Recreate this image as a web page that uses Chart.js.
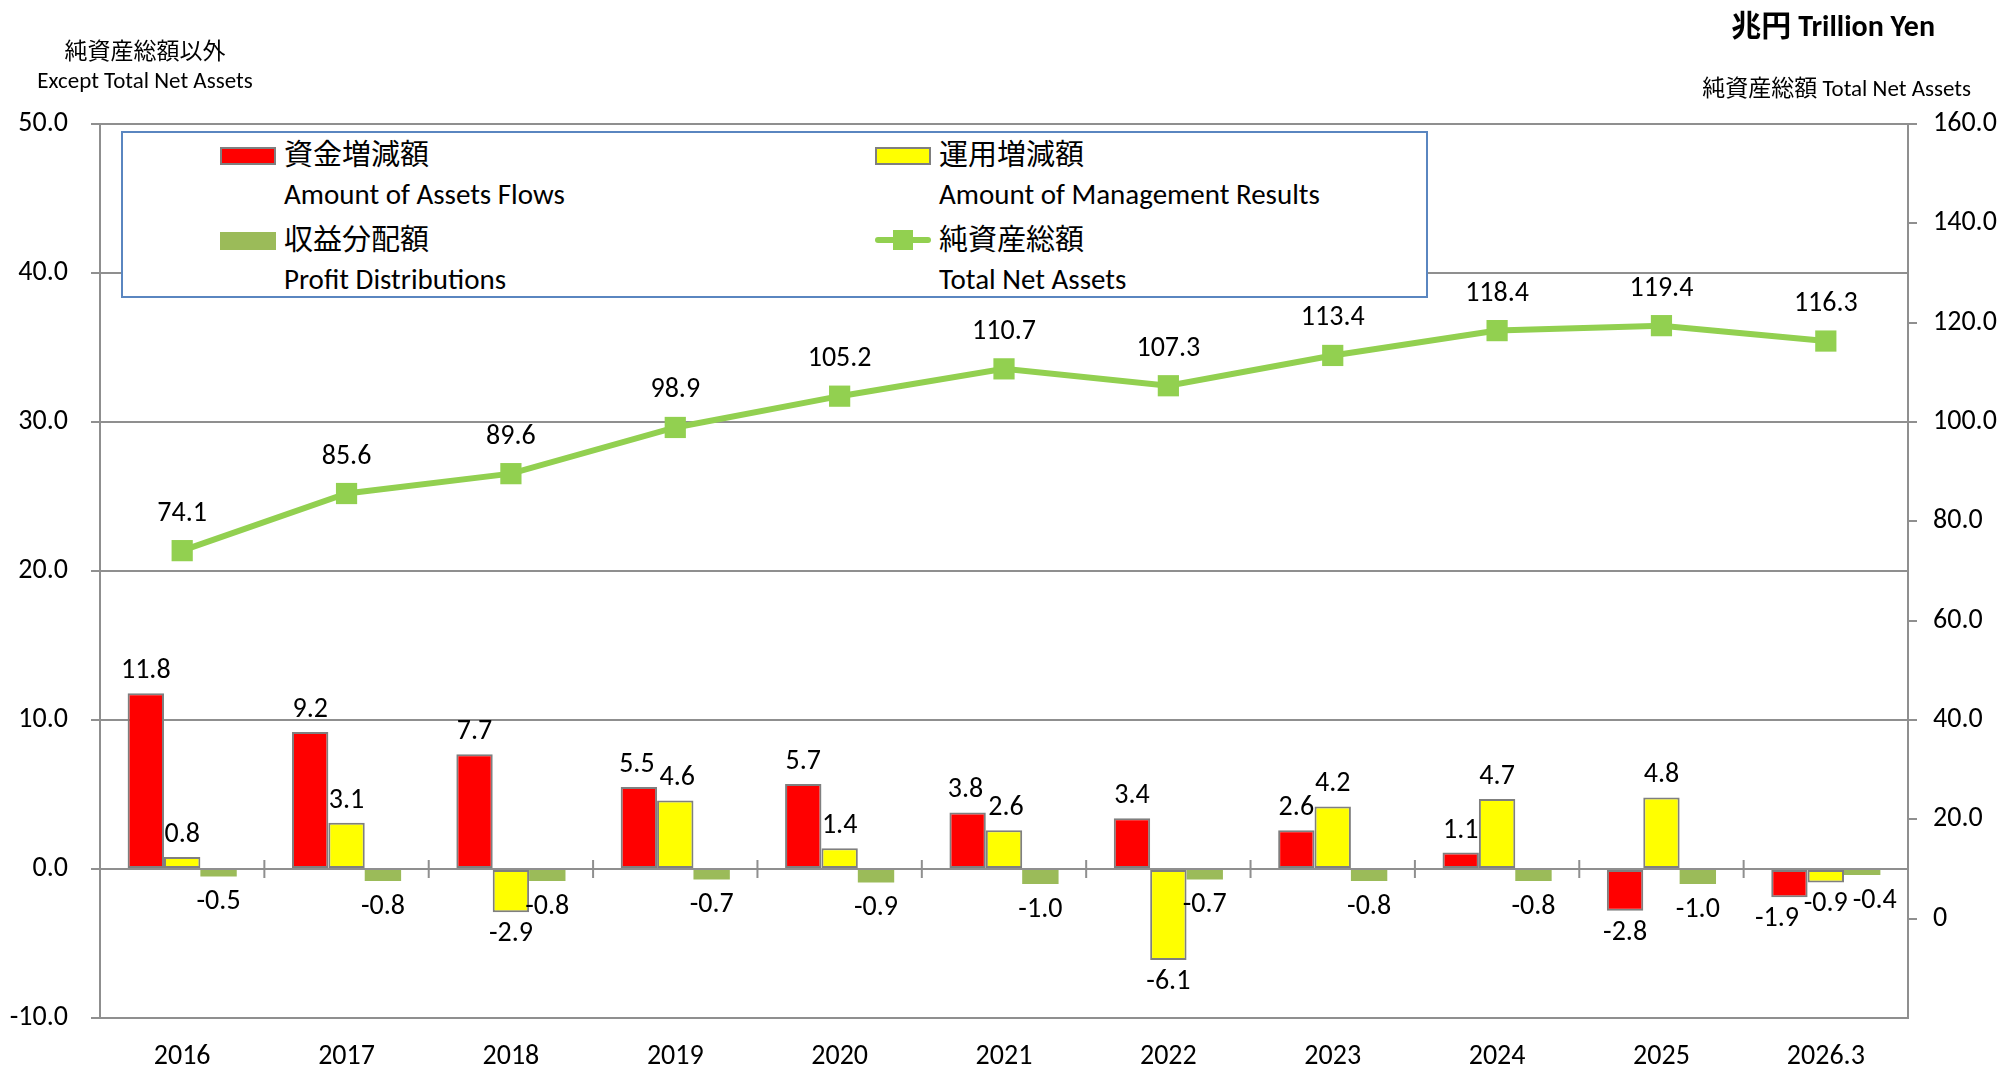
<!DOCTYPE html>
<html>
<head>
<meta charset="utf-8">
<script src="https://cdn.jsdelivr.net/npm/chart.js@4.4.0/dist/chart.umd.min.js"></script>
<style>
  body { margin: 0; background: #fff; }
  #wrap {
    position: relative; width: 2005px; height: 1068px;
    font-family: Carlito, Lato, "Noto Sans CJK JP", sans-serif; color: #000;
  }
  #wrap canvas { position: absolute; left: 0; top: 0; }
  .note { position: absolute; white-space: nowrap; line-height: 1; }
  #legend {
    position: absolute; left: 121px; top: 131px; width: 1303px; height: 163px;
    border: 2px solid #5a86c0; background: #fff;
  }
  .item { position: absolute; width: 600px; height: 80px; }
  .item .sw { position: absolute; left: 0; top: 7px; width: 52px; height: 14px; }
  .item .ja { position: absolute; left: 64px; top: 0; font-size: 29px; line-height: 30px; }
  .item .en { position: absolute; left: 64px; top: 39px; font-size: 29px; line-height: 30px; }
</style>
</head>
<body>
<div id="wrap">
  <canvas id="Chart"></canvas>
  <div class="note" style="left:0;width:290px;text-align:center;top:40px;font-size:23px;">純資産総額以外</div>
  <div class="note" style="left:0;width:290px;text-align:center;top:69px;font-size:23px;">Except Total Net Assets</div>
  <div class="note" style="right:70px;top:11px;font-size:30px;font-weight:bold;">兆円 Trillion Yen</div>
  <div class="note" style="right:34px;top:77px;font-size:23px;">純資産総額 Total Net Assets</div>
  <div id="legend"></div>
</div>
<script>
// Data
const years = ['2016', '2017', '2018', '2019', '2020', '2021', '2022', '2023', '2024', '2025', '2026.3'];
const assetFlows = [11.8, 9.2, 7.7, 5.5, 5.7, 3.8, 3.4, 2.6, 1.1, -2.8, -1.9];
const mgmtResults = [0.8, 3.1, -2.9, 4.6, 1.4, 2.6, -6.1, 4.2, 4.7, 4.8, -0.9];
const profitDist = [-0.5, -0.8, -0.8, -0.7, -0.9, -1.0, -0.7, -0.8, -0.8, -1.0, -0.4];
const totalNetAssets = [74.1, 85.6, 89.6, 98.9, 105.2, 110.7, 107.3, 113.4, 118.4, 119.4, 116.3];
const namesJa = ['資金増減額', '運用増減額', '収益分配額', '純資産総額'];
const namesEn = ['Amount of Assets Flows', 'Amount of Management Results', 'Profit Distributions', 'Total Net Assets'];

const FONT = 'Carlito, Lato, "Noto Sans CJK JP", sans-serif';
const GRAY = '#8f8f8f';

// value labels on bars and points
const valueLabels = {
  id: 'valueLabels',
  afterDatasetsDraw(chart) {
    const ctx = chart.ctx;
    ctx.save();
    ctx.font = '28px ' + FONT;
    ctx.fillStyle = '#000';
    ctx.textAlign = 'center';
    ctx.textBaseline = 'middle';
    const groups = years.map(() => []);
    chart.data.datasets.forEach((ds, i) => {
      const meta = chart.getDatasetMeta(i);
      meta.data.forEach((el, j) => {
        const v = ds.data[j];
        const txt = v.toFixed(1);
        if (ds.type === 'line') {
          ctx.fillText(txt, el.x, el.y - 37);
          return;
        }
        const y = v >= 0 ? el.y - 22 : el.y + (i === 2 ? 26 : 22);
        groups[j].push({ txt, x: el.x, y, w: ctx.measureText(txt).width });
      });
    });
    // push apart bar labels of one year that would touch
    groups.forEach(g => {
      for (let k = 0; k < 4; k++) {
        for (let a = 0; a < g.length; a++) {
          for (let b = a + 1; b < g.length; b++) {
            const p = g[a], q = g[b];
            if (Math.abs(p.y - q.y) >= 22) continue;
            const over = (p.w + q.w) / 2 + 5 - Math.abs(q.x - p.x);
            if (over > 0) { p.x -= over / 2; q.x += over / 2; }
          }
        }
      }
      g.forEach(l => ctx.fillText(l.txt, l.x, l.y));
    });
    ctx.restore();
  }
};

// small category ticks on the zero line
const zeroTicks = {
  id: 'zeroTicks',
  beforeDatasetsDraw(chart) {
    const ctx = chart.ctx, x = chart.scales.x;
    const y0 = chart.scales.y.getPixelForValue(0);
    ctx.save();
    ctx.strokeStyle = GRAY;
    ctx.lineWidth = 2;
    ctx.beginPath();
    for (let i = 1; i < years.length; i++) {
      const px = (x.getPixelForValue(i - 1) + x.getPixelForValue(i)) / 2;
      ctx.moveTo(px, y0 - 9);
      ctx.lineTo(px, y0 + 9);
    }
    ctx.stroke();
    ctx.restore();
  }
};

const data = {
  labels: years,
  datasets: [
    {
      type: 'bar', label: namesJa[0], data: assetFlows,
      backgroundColor: '#ff0000', borderColor: '#7f7f7f', borderWidth: 2,
      borderSkipped: false, yAxisID: 'y', order: 1
    },
    {
      type: 'bar', label: namesJa[1], data: mgmtResults,
      backgroundColor: '#ffff00', borderColor: '#7f7f7f', borderWidth: 2,
      borderSkipped: false, yAxisID: 'y', order: 1
    },
    {
      type: 'bar', label: namesJa[2], data: profitDist,
      backgroundColor: '#9bbb59', borderWidth: 0, yAxisID: 'y', order: 1
    },
    {
      type: 'line', label: namesJa[3], data: totalNetAssets,
      borderColor: '#92d050', backgroundColor: '#92d050', borderWidth: 6,
      pointStyle: 'rect', pointRadius: 15, pointBorderWidth: 0,
      pointBackgroundColor: '#92d050', tension: 0, yAxisID: 'y1', order: 0
    }
  ]
};

const config = {
  type: 'bar',
  data: data,
  options: {
    responsive: false,
    animation: false,
    layout: { padding: { top: 124, left: 0, right: 0, bottom: 0 } },
    datasets: { bar: { categoryPercentage: 0.664, barPercentage: 1.0 } },
    plugins: { legend: { display: false }, tooltip: { enabled: false } },
    scales: {
      x: {
        grid: { display: false, drawTicks: false },
        border: { display: false },
        ticks: { color: '#000', font: { family: FONT, size: 28 }, padding: 22, maxRotation: 0 },
        afterFit(s) { s.height = 50; }
      },
      y: {
        position: 'left', min: -10, max: 50,
        grid: { color: GRAY, lineWidth: 2, tickLength: 9 },
        border: { display: true, color: GRAY, width: 2 },
        ticks: {
          stepSize: 10, color: '#000', padding: 23,
          font: { family: FONT, size: 28 },
          callback: v => v.toFixed(1)
        },
        afterFit(s) { s.width = 100; }
      },
      y1: {
        position: 'right', min: -20, max: 160,
        grid: { drawOnChartArea: false, color: GRAY, lineWidth: 2, tickLength: 9 },
        border: { display: true, color: GRAY, width: 2 },
        ticks: {
          stepSize: 20, color: '#000', padding: 16,
          font: { family: FONT, size: 28 },
          callback: v => (v < 0 ? null : (v === 0 ? '0' : v.toFixed(1)))
        },
        afterFit(s) { s.width = 97; }
      }
    }
  },
  plugins: [zeroTicks, valueLabels]
};

// legend box drawn as html from the datasets
function buildLegend(chart) {
  const box = document.getElementById('legend');
  const spots = [[97, 7], [752, 7], [97, 92], [752, 92]];
  chart.data.datasets.forEach((ds, i) => {
    const item = document.createElement('div');
    item.className = 'item';
    item.style.left = spots[i][0] + 'px';
    item.style.top = spots[i][1] + 'px';
    let sw;
    if (ds.type === 'line') {
      sw = '<div class="sw" style="height:24px;top:3px;">' +
        '<div style="position:absolute;left:0;top:9px;width:56px;height:6px;background:' + ds.borderColor + ';border-radius:3px;"></div>' +
        '<div style="position:absolute;left:18px;top:2px;width:20px;height:20px;background:' + ds.pointBackgroundColor + ';"></div></div>';
    } else {
      const bw = ds.borderWidth || 0;
      sw = '<div class="sw" style="background:' + ds.backgroundColor + ';border:' + (bw ? bw + 'px solid ' + ds.borderColor : '2px solid ' + ds.backgroundColor) + ';"></div>';
    }
    item.innerHTML = sw + '<div class="ja">' + namesJa[i] + '</div><div class="en">' + namesEn[i] + '</div>';
    box.appendChild(item);
  });
}

window.addEventListener('load', () => {
  const ctx = document.getElementById('Chart');
  ctx.width = 2005;
  ctx.height = 1068;
  const chart = new Chart(ctx, config);
  buildLegend(chart);
});
</script>
</body>
</html>
